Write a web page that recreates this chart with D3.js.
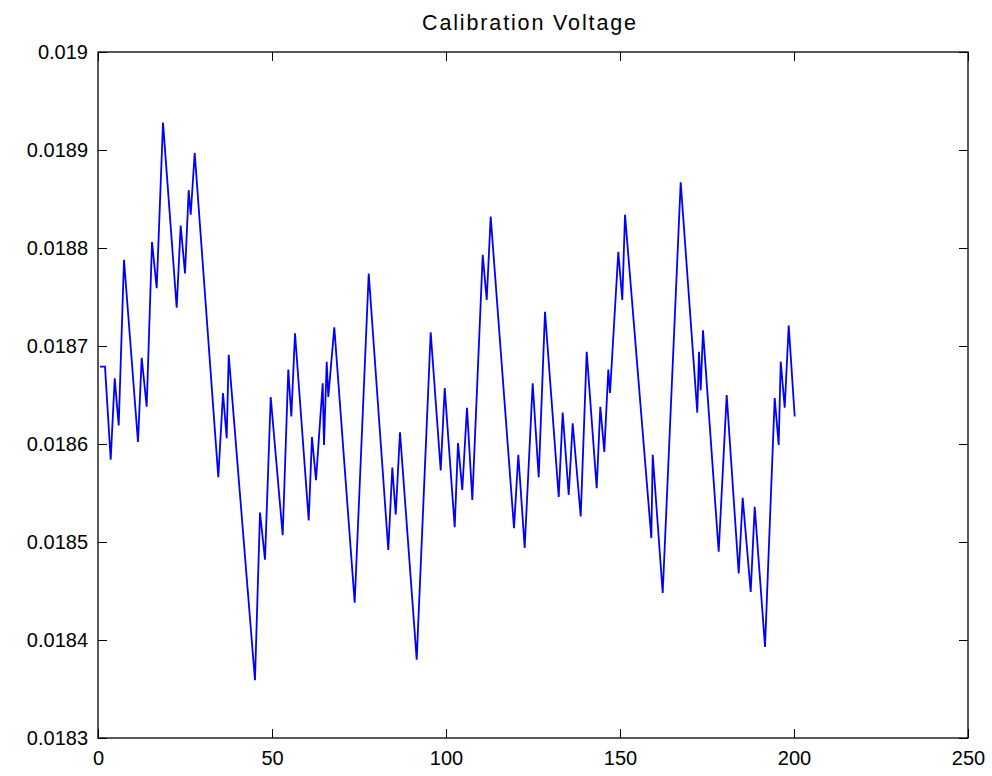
<!DOCTYPE html>
<html><head><meta charset="utf-8">
<script src="https://cdn.jsdelivr.net/npm/d3@7"></script>
<style>
body{margin:0;background:#fff}
svg{display:block}
text{font-family:"Liberation Sans",Arial,Helvetica,sans-serif}
</style>
</head><body>
<svg id="chart" width="992" height="776"></svg>
<script>
// ---- data ----
const sampleIndex = [0.57,2.01,3.65,4.80,5.95,7.47,11.49,12.56,13.99,15.52,16.87,18.68,22.61,23.76,25.00,26.06,26.64,27.79,
  34.57,35.92,36.98,37.56,45.11,46.55,47.99,49.63,53.07,54.68,55.55,56.61,60.55,61.49,62.64,64.57,64.94,65.72,66.18,67.90,
  73.76,77.79,83.42,84.57,85.55,86.78,91.58,95.60,98.48,99.63,102.50,103.45,104.68,106.03,107.56,110.55,111.70,112.84,
  119.54,120.78,122.61,124.91,126.64,128.45,132.39,133.53,135.26,136.41,138.71,140.43,143.30,144.34,145.49,146.64,147.13,
  149.51,150.66,151.44,159.00,159.40,162.27,167.44,172.21,172.70,173.19,173.85,178.36,180.66,184.11,185.26,187.56,188.71,
  191.67,194.45,195.60,196.18,197.33,198.48,200.20];
const voltage = [0.018679,0.018679,0.018584,0.018667,0.018619,0.018788,0.018602,0.018688,0.018638,0.018806,0.018759,0.018928,0.018739,0.018823,0.018774,0.018859,0.018834,0.018897,
  0.018566,0.018652,0.018606,0.018691,0.018359,0.018530,0.018482,0.018648,0.018507,0.018676,0.018628,0.018713,0.018522,0.018607,0.018563,0.018662,0.018599,0.018684,0.018648,0.018719,
  0.018438,0.018774,0.018492,0.018576,0.018528,0.018612,0.018380,0.018714,0.018573,0.018657,0.018515,0.018601,0.018553,0.018637,0.018543,0.018793,0.018747,0.018832,
  0.018514,0.018589,0.018494,0.018662,0.018566,0.018735,0.018546,0.018632,0.018548,0.018621,0.018526,0.018694,0.018555,0.018638,0.018592,0.018676,0.018652,
  0.018796,0.018747,0.018834,0.018504,0.018589,0.018448,0.018867,0.018632,0.018694,0.018655,0.018716,0.018490,0.018650,0.018468,0.018545,0.018449,0.018536,
  0.018393,0.018647,0.018599,0.018684,0.018637,0.018721,0.018628];
const xTicks = [0,50,100,150,200,250];
const yTicks = [0.0183,0.0184,0.0185,0.0186,0.0187,0.0188,0.0189,0.019];
const yTickLabels = ["0.0183","0.0184","0.0185","0.0186","0.0187","0.0188","0.0189","0.019"];
const chartTitle = "Calibration Voltage";

// ---- drawing ----
const svg = d3.select("#chart");
const L=98,R=968,T=52,B=738;
const x = d3.scaleLinear().domain([0,250]).range([L,R]);
const y = d3.scaleLinear().domain([0.0183,0.019]).range([B,T]);
const fs = 20;

svg.append("rect").attr("width",992).attr("height",776).attr("fill","#fff");

const line = d3.line().x((d,i)=>x(sampleIndex[i])).y(d=>y(d));
svg.append("path").datum(voltage)
  .attr("d",line).attr("fill","none")
  .attr("stroke","#0000ff").attr("stroke-width",1.8)
  .attr("stroke-linejoin","miter");

function style(g){
  g.select(".domain").remove();
  g.selectAll(".tick line").attr("stroke","#000").attr("stroke-width",1);
  g.selectAll("text").attr("font-size",fs).attr("fill","#000")
   .attr("font-family",'"Liberation Sans",Arial,Helvetica,sans-serif');
}
svg.append("g").attr("transform",`translate(0,${B})`)
  .call(d3.axisBottom(x).tickValues(xTicks).tickFormat(d3.format("d")).tickSizeInner(-9).tickSizeOuter(0).tickPadding(13))
  .call(style);
svg.append("g").attr("transform",`translate(0,${T})`)
  .call(d3.axisTop(x).tickValues(xTicks).tickFormat("").tickSizeInner(-9).tickSizeOuter(0))
  .call(style);
svg.append("g").attr("transform",`translate(${L},0)`)
  .call(d3.axisLeft(y).tickValues(yTicks).tickFormat((d,i)=>yTickLabels[i]).tickSizeInner(-9).tickSizeOuter(0).tickPadding(10))
  .call(style);
svg.append("g").attr("transform",`translate(${R},0)`)
  .call(d3.axisRight(y).tickValues(yTicks).tickFormat("").tickSizeInner(-9).tickSizeOuter(0))
  .call(style);

svg.append("rect").attr("x",L).attr("y",T).attr("width",R-L).attr("height",B-T)
  .attr("fill","none").attr("stroke","#000").attr("stroke-width",1.3);

svg.append("text").attr("x",529).attr("y",30).attr("text-anchor","middle")
  .attr("font-size",21.5).attr("fill","#000")
  .attr("textLength",214).attr("lengthAdjust","spacing").text(chartTitle);
</script>
</body></html>
